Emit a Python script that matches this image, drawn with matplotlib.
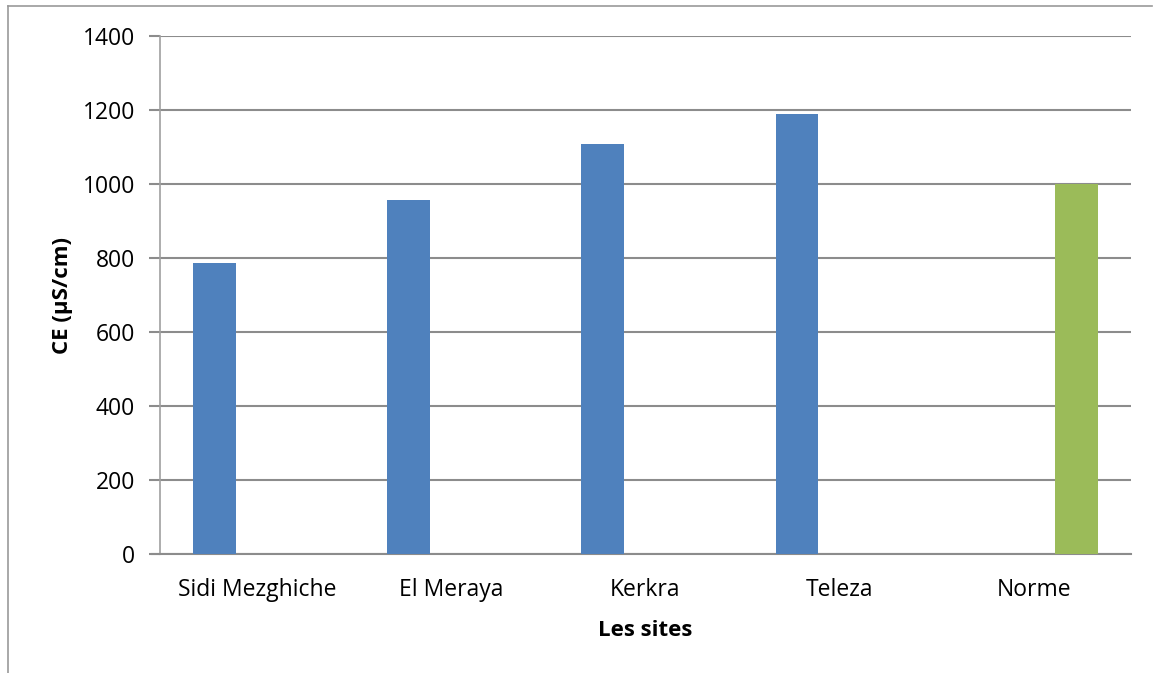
import matplotlib
matplotlib.use('Agg')
import matplotlib.pyplot as plt
import numpy as np
from matplotlib.lines import Line2D

# Conductivity per site, plus the reference norm
sites = ['Sidi Mezghiche', 'El Meraya', 'Kerkra', 'Teleza', 'Norme']
ce_sites = [786, 957, 1108, 1190, np.nan]
ce_norme = [np.nan, np.nan, np.nan, np.nan, 1000]
y_ticks = [0, 200, 400, 600, 800, 1000, 1200, 1400]

plt.rcParams['font.family'] = ['Open Sans', 'DejaVu Sans']
grid_col = '#8c8c8c'

W, H = 1153, 673
fig = plt.figure(figsize=(W / 100, H / 100), dpi=100)
ax = fig.add_axes([160 / W, 1 - 554 / H, (1131 - 160) / W, (554 - 36) / H])

x = np.arange(len(sites))
bw = 0.22
ax.bar(x - bw, ce_sites, width=bw, color='#4F81BD', zorder=3)
ax.bar(x + bw, ce_norme, width=bw, color='#9BBB59', zorder=3)

ax.set_xlim(-0.5, len(sites) - 0.5)
ax.set_ylim(0, 1400)
ax.set_yticks(y_ticks)
ax.set_xticks(x)
ax.set_xticklabels(sites)

ax.grid(axis='y', color=grid_col, linewidth=1.5, zorder=0)
ax.set_axisbelow(True)
for s in ['top', 'right']:
    ax.spines[s].set_visible(False)
ax.spines['left'].set_color('#a0a0a0')
ax.spines['left'].set_linewidth(1.2)
ax.spines['bottom'].set_color(grid_col)
ax.spines['bottom'].set_linewidth(1.5)
ax.tick_params(axis='y', length=8, width=1.5, color=grid_col, labelsize=16.5, pad=10)
ax.tick_params(axis='x', length=0, labelsize=16.5, pad=17.5)
# extend the baseline a bit to the left like the gridlines
ax.plot([-0.5 - 8 / 194.2, -0.5], [0, 0], color=grid_col, lw=1.5, clip_on=False)

ax.set_ylabel('CE (µS/cm)', fontsize=16, fontweight='bold', labelpad=7)
ax.set_xlabel('Les sites', fontsize=16, fontweight='bold', labelpad=13)

# chart frame (top and left edges)
fig.add_artist(Line2D([8 / W, 8 / W], [0, 1 - 6 / H], color='#999999', lw=1.2))
fig.add_artist(Line2D([8 / W, 1152 / W], [1 - 6 / H, 1 - 6 / H], color='#999999', lw=1.2))

fig.savefig('out.png', dpi=100)
